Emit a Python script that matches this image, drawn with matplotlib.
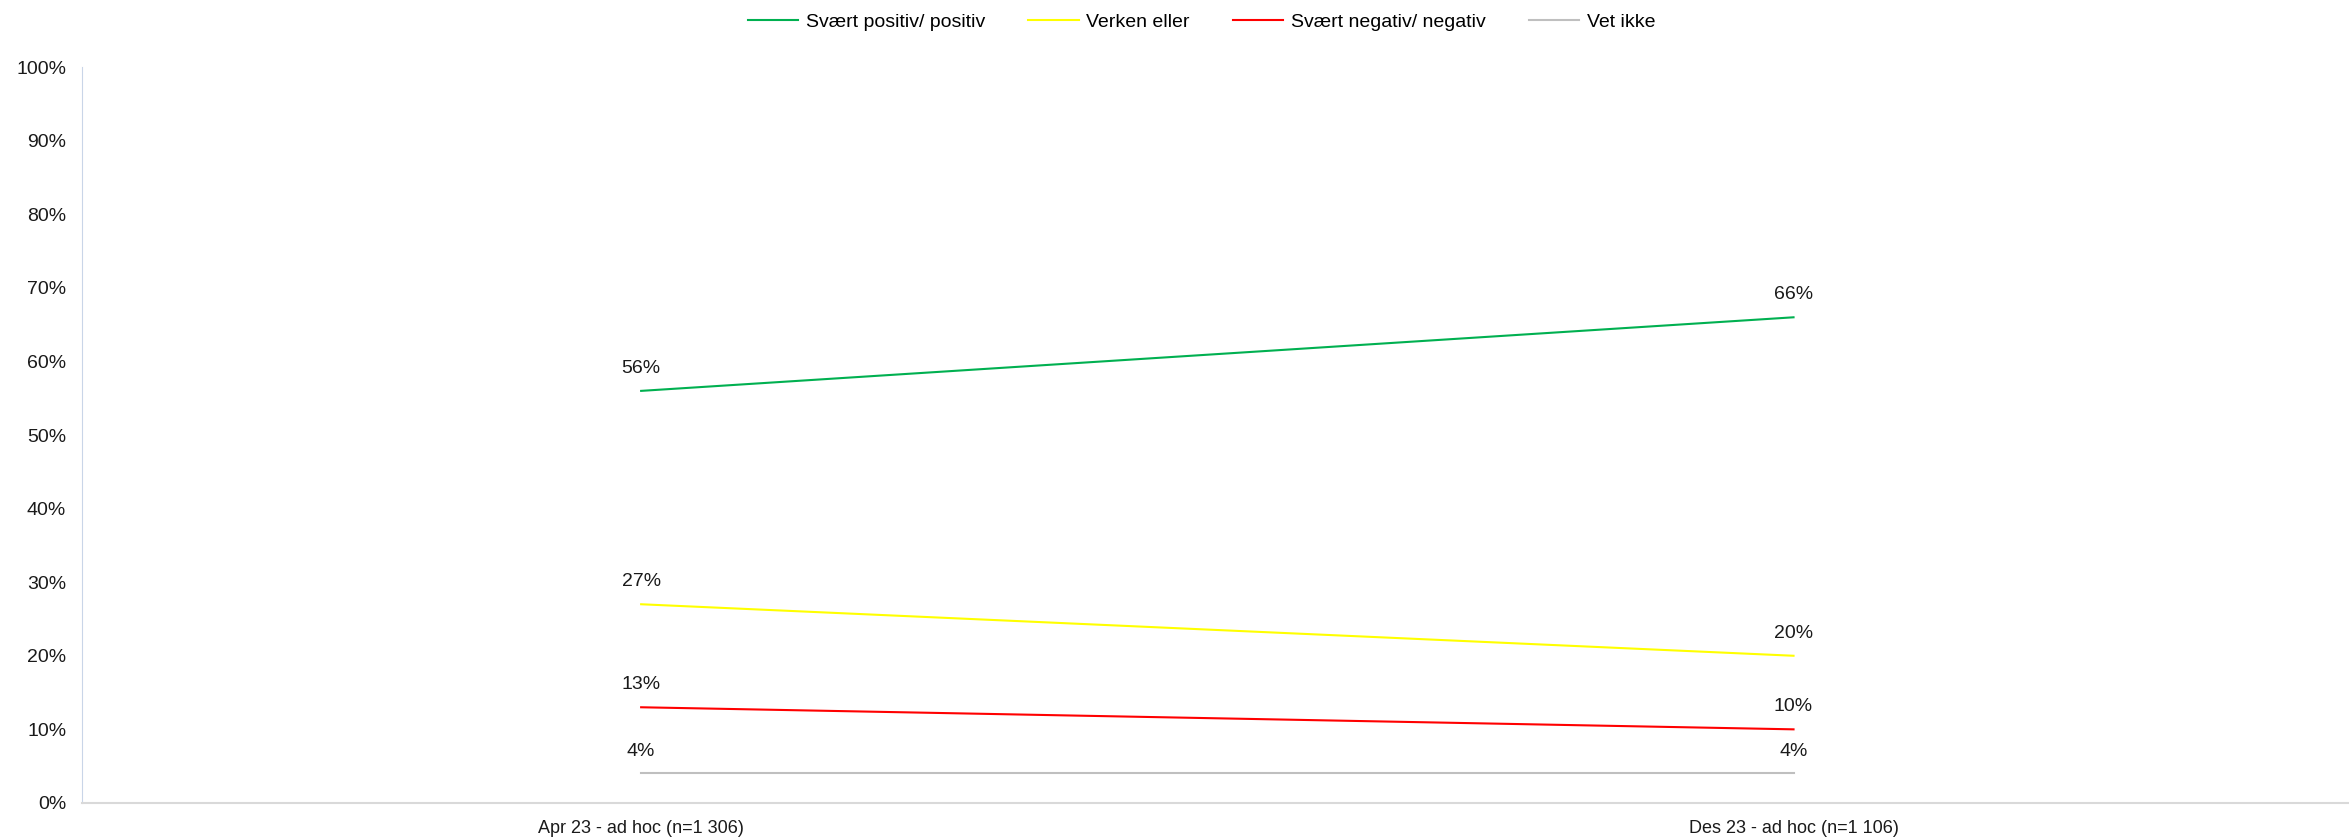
import matplotlib.pyplot as plt
from matplotlib.ticker import PercentFormatter

plt.rcParams['font.family'] = ['Liberation Sans', 'DejaVu Sans']

categories = ['Apr 23 - ad hoc (n=1 306)', 'Des 23 - ad hoc (n=1 106)']
series_names = ['Svært positiv/ positiv', 'Verken eller', 'Svært negativ/ negativ', 'Vet ikke']
positive = [56, 66]
neutral = [27, 20]
negative = [13, 10]
dont_know = [4, 4]
colors = ['#00b050', '#ffff00', '#ff0000', '#bfbfbf']

fig = plt.figure(figsize=(23.49, 8.39), dpi=100)
ax = fig.add_axes([0.035, 0.043, 0.965, 0.877])

x = [0, 1]
for name, vals, col in zip(series_names, [positive, neutral, negative, dont_know], colors):
    ax.plot(x, vals, color=col, linewidth=1.5, label=name)
    for xi, v in zip(x, vals):
        ax.annotate(f'{v}%', (xi, v), xytext=(0, 10), textcoords='offset points',
                    ha='center', va='bottom', fontsize=14, color='#1a1a1a')

ax.set_xlim(-0.485, 1.482)
ax.set_ylim(0, 100)
ax.set_yticks(range(0, 101, 10))
ax.yaxis.set_major_formatter(PercentFormatter(decimals=0))
ax.set_xticks(x)
ax.set_xticklabels(categories)
ax.tick_params(length=0, labelsize=14, colors='#1a1a1a')
ax.tick_params(axis='x', labelsize=13, pad=12)
ax.tick_params(axis='y', pad=11.5)

for s in ['top', 'right']:
    ax.spines[s].set_visible(False)
ax.spines['left'].set_color('#c9d5e8')
ax.spines['bottom'].set_color('#d9d9d9')
ax.spines['bottom'].set_linewidth(1.5)

fig.legend(loc='upper center', ncol=4, frameon=False, fontsize=14,
           bbox_to_anchor=(0.5115, 1.005), handlelength=2.6, columnspacing=2.2,
           handletextpad=0.4)

fig.savefig('out.png', dpi=100)
